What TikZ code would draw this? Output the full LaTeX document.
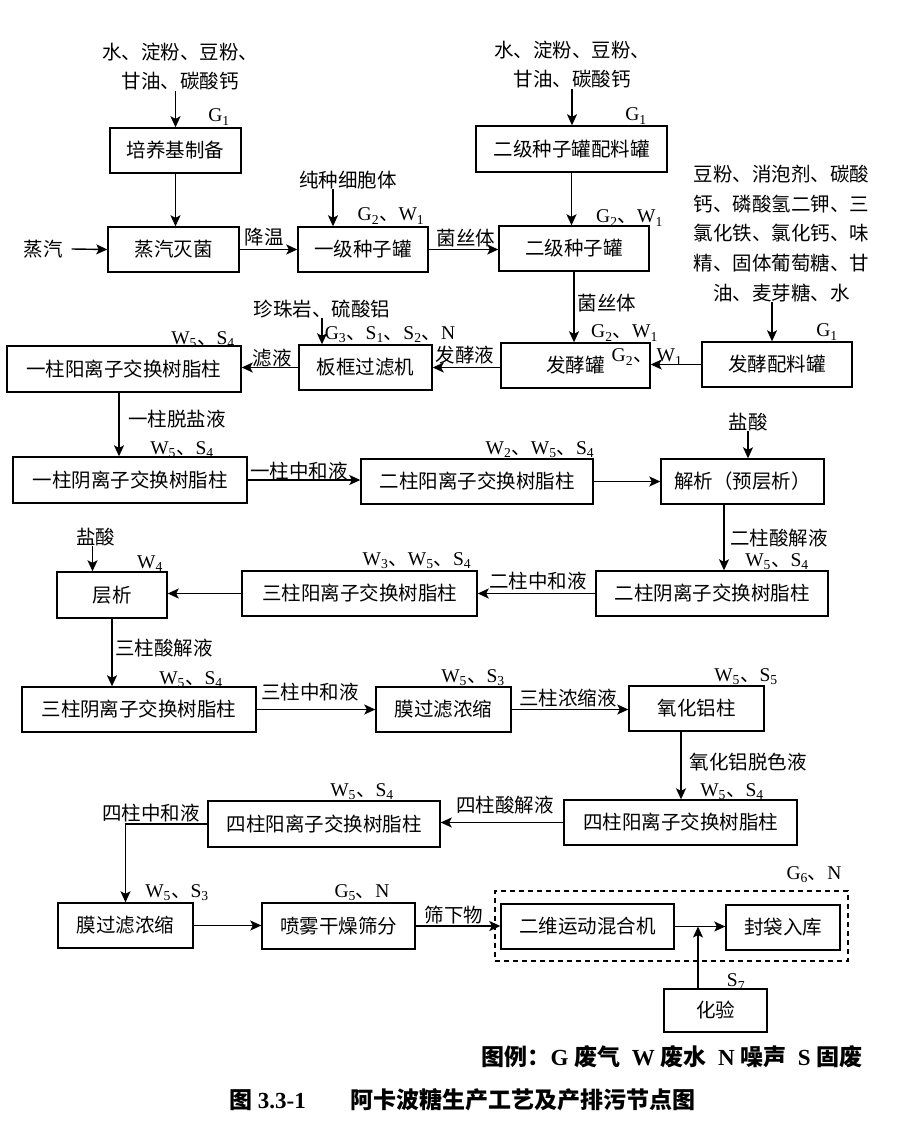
\documentclass[tikz,border=0pt]{standalone}
\usepackage{fontspec}
\setmainfont{Liberation Serif}
\newfontfamily\cjk{Noto Sans CJK SC}
\usetikzlibrary{arrows.meta}
\newcommand\dn{{\cjk 、}}
\newcommand\sbs[1]{\textsubscript{#1}}
\newcommand\zhfont{\cjk\fontsize{19.5}{29.7}\selectfont}
\newcommand\emfont{\fontsize{19.5}{22}\selectfont}
\begin{document}
\begin{tikzpicture}[x=1pt,y=-1pt,
  box/.style={draw, line width=1.4pt, inner sep=0pt, minimum height=45pt, font=\zhfont},
  lbl/.style={inner sep=0pt, font=\zhfont, align=center},
  em/.style={inner sep=0pt, font=\emfont},
  arr/.style={line width=1.4pt, -{Stealth[length=11pt,width=10pt,inset=2.5pt]}}]
\fill[white] (0,0) rectangle (904,1140);
\useasboundingbox (0,0) rectangle (904,1140);

% ---------- boxes ----------
\node[box, minimum width=131pt] (peiyang) at (175.5,150.5) {培养基制备};
\node[box, minimum width=131pt] (miejun) at (173.5,249.5) {蒸汽灭菌};
\node[box, minimum width=130pt] (yiji) at (363,249.5) {一级种子罐};
\node[box, minimum width=191pt, minimum height=46pt] (erpei) at (571.5,149) {二级种子罐配料罐};
\node[box, minimum width=150pt] (erji) at (574,248.5) {二级种子罐};
\node[box, minimum width=149pt] (fajiao) at (575.5,365.5) {发酵罐};
\node[box, minimum width=150pt] (fapei) at (777,364.5) {发酵配料罐};
\node[box, minimum width=133pt] (bankuang) at (365.5,367.5) {板框过滤机};
\node[box, minimum width=234pt, minimum height=46pt] (yiyang) at (124,369) {一柱阳离子交换树脂柱};
\node[box, minimum width=234pt, minimum height=46pt] (yiyin) at (130,480) {一柱阴离子交换树脂柱};
\node[box, minimum width=232pt] (eryang) at (477,481.5) {二柱阳离子交换树脂柱};
\node[box, minimum width=163pt] (jiexi) at (742.5,481.5) {解析（预层析）};
\node[box, minimum width=232pt] (eryin) at (712,593.5) {二柱阴离子交换树脂柱};
\node[box, minimum width=235pt] (sanyang) at (359.5,593.5) {三柱阳离子交换树脂柱};
\node[box, minimum width=110pt, minimum height=46pt] (cengxi) at (112,595) {层析};
\node[box, minimum width=234pt] (sanyin) at (139,709.5) {三柱阴离子交换树脂柱};
\node[box, minimum width=135pt] (mo1) at (443.5,709.5) {膜过滤浓缩};
\node[box, minimum width=135pt] (yanghualv) at (696.5,708.5) {氧化铝柱};
\node[box, minimum width=233pt] (siyangR) at (680.5,822.5) {四柱阳离子交换树脂柱};
\node[box, minimum width=232pt, minimum height=46pt] (siyangL) at (324,824) {四柱阳离子交换树脂柱};
\node[box, minimum width=135pt] (mo2) at (125.5,925.5) {膜过滤浓缩};
\node[box, minimum width=153pt, minimum height=46pt] (penwu) at (338.5,926) {喷雾干燥筛分};
\node[box, minimum width=173pt] (erwei) at (587.5,926.5) {二维运动混合机};
\node[box, minimum width=114pt] (fengdai) at (783,927.5) {封袋入库};
\node[box, minimum width=103pt, minimum height=43pt] (huayan) at (715.5,1010.5) {化验};
\node[draw, dashed, dash pattern=on 5pt off 4pt, line width=1.4pt, inner sep=0pt,
      minimum width=353pt, minimum height=70pt] (frame) at (671.5,926) {};

% ---------- input texts ----------
\node[lbl] (in1) at (180,66.5) {水、淀粉、豆粉、\\甘油、碳酸钙};
\node[lbl] (in2) at (572,64.5) {水、淀粉、豆粉、\\甘油、碳酸钙};
\node[lbl] (zq) at (43,249) {蒸汽};
\node[lbl] (cz) at (348,180) {纯种细胞体};
\node[lbl] (fpin) at (781.5,233.5) {豆粉、消泡剂、碳酸\\钙、磷酸氢二钾、三\\氯化铁、氯化钙、味\\精、固体葡萄糖、甘\\油、麦芽糖、水};
\node[lbl] (zz) at (322,309) {珍珠岩、硫酸铝};
\node[lbl] (ys1) at (748,422) {盐酸};
\node[lbl] (ys2) at (95.5,537) {盐酸};

% ---------- connectors ----------
\draw[arr] (in1.south -| peiyang.north) -- (peiyang.north);
\draw[arr] (peiyang.south) -- (peiyang.south |- miejun.north);
\draw[arr] ([xshift=9pt]zq.east) -- (miejun.west);
\draw[arr] (miejun.east) -- (yiji.west);
\coordinate (c1) at ([xshift=-15pt]cz.south);
\draw[arr] (c1) -- (c1 |- yiji.north);
\draw[arr] (yiji.east) -- (yiji.east -| erji.west);
\draw[arr] (in2.south) -- (in2.south |- erpei.north);
\draw[arr] (erpei.south) -- (erpei.south |- erji.north);
\draw[arr] (erji.south) -- (erji.south |- fajiao.north);
\coordinate (c2) at ([xshift=-9.5pt]fpin.south);
\draw[arr] (c2) -- (c2 |- fapei.north);
\draw[arr] (fapei.west) -- (fapei.west -| fajiao.east);
\draw[arr] (fajiao.west |- bankuang.east) -- (bankuang.east);
\draw[arr] (zz.south) -- (zz.south |- bankuang.north);
\draw[arr] (bankuang.west) -- (bankuang.west -| yiyang.east);
\coordinate (c3) at ([xshift=-5pt]yiyang.south);
\draw[arr] (c3) -- (c3 |- yiyin.north);
\draw[arr] (yiyin.east) -- (yiyin.east -| eryang.west);
\draw[arr] (eryang.east) -- (jiexi.west);
\draw[arr] (ys1.south) -- (ys1.south |- jiexi.north);
\coordinate (c4) at ([xshift=-18.5pt]jiexi.south);
\draw[arr] (c4) -- (c4 |- eryin.north);
\draw[arr] (eryin.west) -- (sanyang.east);
\draw[arr] (sanyang.west) -- (sanyang.west -| cengxi.east);
\coordinate (c5) at ([xshift=-3pt]ys2.south);
\draw[arr] (c5) -- (c5 |- cengxi.north);
\draw[arr] (cengxi.south) -- (cengxi.south |- sanyin.north);
\draw[arr] (sanyin.east) -- (mo1.west);
\draw[arr] (mo1.east) -- (mo1.east -| yanghualv.west);
\coordinate (c6) at ([xshift=-15.5pt]yanghualv.south);
\draw[arr] (c6) -- (c6 |- siyangR.north);
\draw[arr] (siyangR.west) -- (siyangR.west -| siyangL.east);
\draw[arr] (siyangL.west) -| (mo2.north);
\draw[arr] (mo2.east) -- (mo2.east -| penwu.west);
\draw[arr] (penwu.east) -- (penwu.east -| erwei.west);
\draw[arr] (erwei.east) -- (erwei.east -| fengdai.west);
\coordinate (c7) at ([xshift=-17.5pt]huayan.north);
\draw[arr] (c7) -- (c7 |- erwei.east);

% ---------- connector labels ----------
\node[lbl] (l1) at (264,237) {降温};
\node[lbl] (l2) at (466,238) {菌丝体};
\node[lbl] (l3) at (607,303) {菌丝体};
\node[lbl] (l4) at (465,355) {发酵液};
\node[lbl] (l5) at (272,358) {滤液};
\node[lbl] (l6) at (177,419) {一柱脱盐液};
\node[lbl] (l7) at (299,471) {一柱中和液};
\node[lbl] (l8) at (779,538) {二柱酸解液};
\node[lbl] (l9) at (538,581) {二柱中和液};
\node[lbl] (l10) at (164,648) {三柱酸解液};
\node[lbl] (l11) at (310,692) {三柱中和液};
\node[lbl] (l12) at (568,698) {三柱浓缩液};
\node[lbl] (l13) at (748,762) {氧化铝脱色液};
\node[lbl] (l14) at (505,805) {四柱酸解液};
\node[lbl] (l15) at (151,813) {四柱中和液};
\node[lbl] (l16) at (454,915) {筛下物};

% ---------- emission labels ----------
\node[em] (e1) at (219,117) {G\sbs{1}};
\node[em] (e2) at (391,216) {G\sbs{2}\dn W\sbs{1}};
\node[em] (e3) at (636,116) {G\sbs{1}};
\node[em] (e4) at (629.5,218) {G\sbs{2}\dn W\sbs{1}};
\node[em] (e5) at (624.5,333) {G\sbs{2}\dn W\sbs{1}};
\node[em] (e6) at (647,357) {G\sbs{2}\dn\hspace{4pt}W\sbs{1}};
\node[em] (e7) at (827,332) {G\sbs{1}};
\node[em] (e8) at (390,335) {G\sbs{3}\dn S\sbs{1}\dn S\sbs{2}\dn N};
\node[em] (e9) at (203,340) {W\sbs{5}\dn S\sbs{4}};
\node[em] (e10) at (182,450) {W\sbs{5}\dn S\sbs{4}};
\node[em] (e11) at (540,450) {W\sbs{2}\dn W\sbs{5}\dn S\sbs{4}};
\node[em] (e12) at (777,562) {W\sbs{5}\dn S\sbs{4}};
\node[em] (e13) at (417,561) {W\sbs{3}\dn W\sbs{5}\dn S\sbs{4}};
\node[em] (e14) at (150,564) {W\sbs{4}};
\node[em] (e15) at (191,680) {W\sbs{5}\dn S\sbs{4}};
\node[em] (e16) at (473,678) {W\sbs{5}\dn S\sbs{3}};
\node[em] (e17) at (746,677) {W\sbs{5}\dn S\sbs{5}};
\node[em] (e18) at (732,792) {W\sbs{5}\dn S\sbs{4}};
\node[em] (e19) at (362,792) {W\sbs{5}\dn S\sbs{4}};
\node[em] (e20) at (177,893) {W\sbs{5}\dn S\sbs{3}};
\node[em] (e21) at (362,893) {G\sbs{5}\dn N};
\node[em] (e22) at (814,875) {G\sbs{6}\dn N};
\node[em] (e23) at (736,982) {S\sbs{7}};

% ---------- legend and caption ----------
\node[inner sep=0pt, font=\fontsize{23}{26}\selectfont\bfseries] (legend) at (672,1057)
  {{\cjk 图例：}G {\cjk 废气}\ \ W {\cjk 废水}\ \ N {\cjk 噪声}\ \ S {\cjk 固废}};
\node[inner sep=0pt, anchor=west, font=\fontsize{23}{26}\selectfont\bfseries] (cap1) at (229,1100)
  {{\cjk 图} 3.3-1};
\node[inner sep=0pt, anchor=west, font=\fontsize{23}{26}\selectfont\bfseries] (cap2) at (350,1100)
  {{\cjk 阿卡波糖生产工艺及产排污节点图}};
\end{tikzpicture}
\end{document}
